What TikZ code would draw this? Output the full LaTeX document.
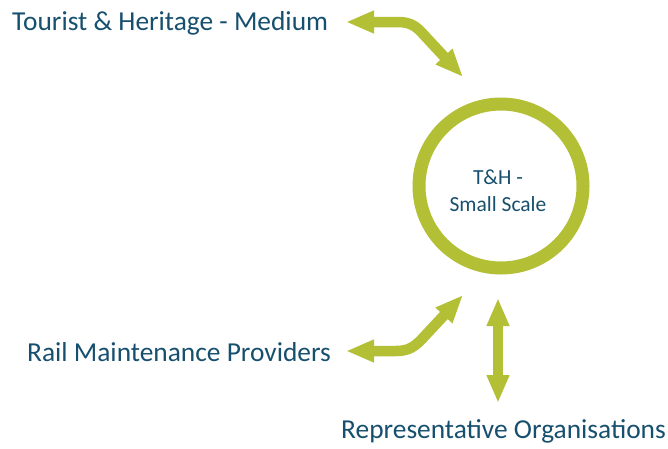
\documentclass[tikz,border=0pt]{standalone}
\usepackage{fontspec}
\setmainfont{Carlito}
\usetikzlibrary{arrows.meta}
\definecolor{lime}{HTML}{B3BF35}
\definecolor{navy}{HTML}{174F6E}
\tikzset{
  lbl/.style={text=navy, font=\fontsize{27.4}{30}\selectfont, inner sep=0pt},
  ctext/.style={text=navy, font=\fontsize{21.5}{27}\selectfont, align=center, inner sep=0pt},
  ring/.style={draw=lime, line width=13pt, circle, minimum size=164pt, inner sep=0pt},
  bigarrow/.style={draw=lime, line width=10.5pt, {Triangle[length=28pt,width=21pt]}-{Triangle[length=28pt,width=21pt]}},
}
\begin{document}
\begin{tikzpicture}[x=1pt,y=-1pt]
\useasboundingbox (0,0) rectangle (668,448);
\node[ring] (c) at (501,186) {};
\node[ctext, anchor=base] (t1) at (498,184) {T\&H -};
\node[ctext, anchor=base] (t2) at (498,211) {Small Scale};
\node[lbl, anchor=base west] (th) at (12,30) {Tourist \& Heritage - Medium};
\node[lbl, anchor=base west] (rm) at (27,361) {Rail Maintenance Providers};
\node[lbl, anchor=base east] (ro) at (666,438) {Representative Organisations};
\coordinate (a1) at (346,22);
\coordinate (a2) at (463,77);
\coordinate (b1) at (346,351);
\coordinate (b2) at (463,295);
\coordinate (v1) at (498,298);
\coordinate (v2) at (498,403);
\draw[bigarrow] (a1) -- (398,22) .. controls (411,22) and (417,27) .. (424,35) -- (a2);
\draw[bigarrow] (b1) -- (396,351) .. controls (408,351) and (414,347) .. (421,340) -- (b2);
\draw[bigarrow] (v1) -- (v2);
\end{tikzpicture}
\end{document}
